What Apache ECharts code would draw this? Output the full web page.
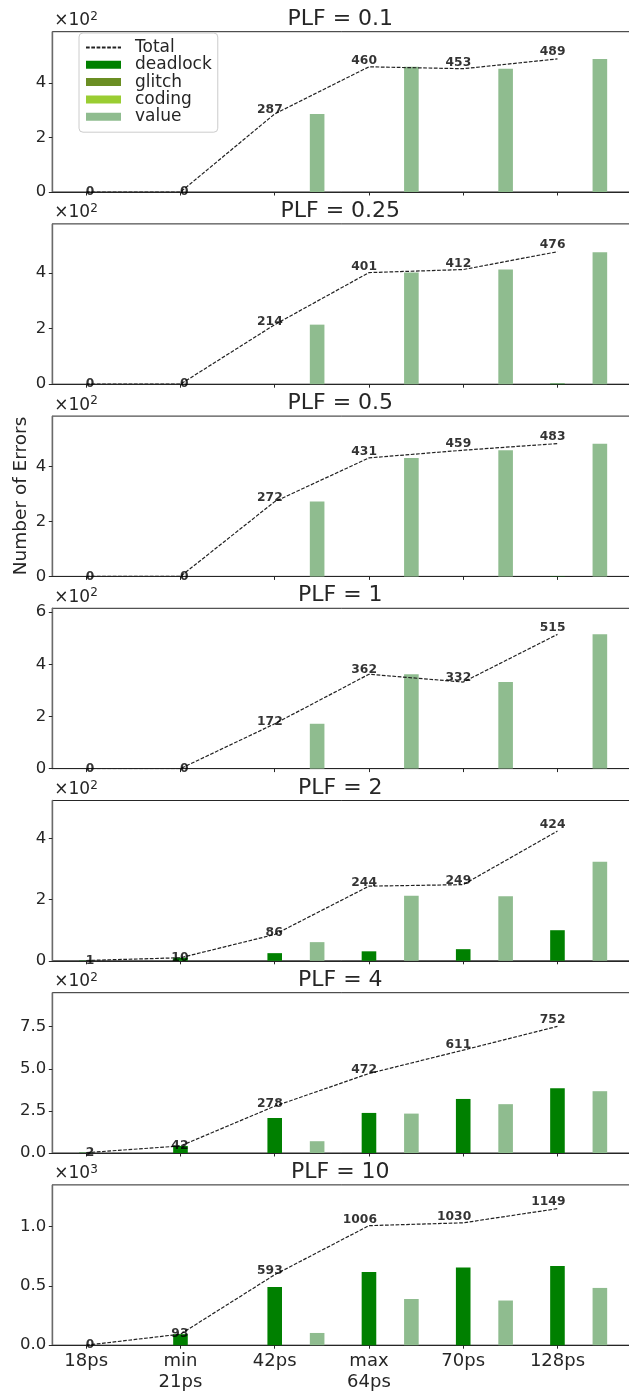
<!DOCTYPE html>
<html><head><meta charset="utf-8">
<script src="https://cdn.jsdelivr.net/npm/echarts@6/dist/echarts.min.js"></script>
<style>html,body{margin:0;padding:0;background:#fff}#c{width:629px;height:1394px}</style>
</head><body><div id="c"></div>
<script>
// ---------- data ----------
const categories = ['18ps', 'min\n21ps', '42ps', 'max\n64ps', '70ps', '128ps'];
const panelTitles = ['PLF = 0.1', 'PLF = 0.25', 'PLF = 0.5', 'PLF = 1', 'PLF = 2', 'PLF = 4', 'PLF = 10'];
const total = [
  [0, 0, 287, 460, 453, 489],
  [0, 0, 214, 401, 412, 476],
  [0, 0, 272, 431, 459, 483],
  [0, 0, 172, 362, 332, 515],
  [1, 10, 86, 244, 249, 424],
  [2, 42, 278, 472, 611, 752],
  [0, 93, 593, 1006, 1030, 1149]
];
const deadlock = [
  [0, 0, 0, 0, 0, 0],
  [0, 0, 0, 0, 0, 2],
  [0, 0, 0, 0, 0, 1],
  [0, 0, 0, 0, 0, 0],
  [1, 10, 25, 31, 38, 100],
  [2, 42, 208, 238, 321, 385],
  [0, 93, 490, 617, 654, 667]
];
const glitch = [
  [0, 0, 0, 0, 0, 0], [0, 0, 0, 0, 0, 0], [0, 0, 0, 0, 0, 0], [0, 0, 0, 0, 0, 0],
  [0, 0, 0, 0, 0, 0], [0, 0, 0, 0, 0, 0], [0, 0, 0, 0, 0, 0]
];
const coding = [
  [0, 0, 0, 0, 0, 0], [0, 0, 0, 0, 0, 0], [0, 0, 0, 0, 0, 0], [0, 0, 0, 0, 0, 0],
  [0, 0, 0, 0, 0, 0], [0, 0, 0, 0, 0, 0], [0, 0, 0, 0, 0, 0]
];
const value = [
  [0, 0, 287, 460, 453, 489],
  [0, 0, 214, 401, 412, 474],
  [0, 0, 272, 431, 459, 482],
  [0, 0, 172, 362, 332, 515],
  [0, 0, 61, 213, 211, 324],
  [0, 0, 70, 234, 290, 367],
  [0, 0, 103, 389, 376, 482]
];
const yMax = [589, 576, 583, 615, 524, 952, 1349];
const yTicks = [
  [0, 200, 400], [0, 200, 400], [0, 200, 400], [0, 200, 400, 600],
  [0, 200, 400], [0, 250, 500, 750], [0, 500, 1000]
];
const yExp = [2, 2, 2, 2, 2, 2, 3];
const yDecimals = [0, 0, 0, 0, 0, 1, 1];
const xTicks = [0, 1, 2, 3, 4, 5];

// ---------- styling / layout ----------
const FONT = 'DejaVu Sans';
const INK = '#262626';
const barSeriesDefs = [
  { name: 'deadlock', data: deadlock, color: '#008000', offset: 0.0 },
  { name: 'glitch', data: glitch, color: '#6b8e23', offset: 0.15 },
  { name: 'coding', data: coding, color: '#9acd32', offset: 0.30 },
  { name: 'value', data: value, color: '#8fbc8f', offset: 0.45 }
];
const BAR_W = 0.155;
const GRID_LEFT = 52.3, GRID_W = 581.5, GRID_TOP0 = 31.7, GRID_STEP = 192.2, GRID_H = 160.3;

function makeBar(offset, width) {
  return function (params, api) {
    const x = api.value(0), y = api.value(1);
    if (!y) return null;
    const a = api.coord([x + offset - width / 2, y]);
    const b = api.coord([x + offset + width / 2, 0]);
    return {
      type: 'rect',
      shape: { x: a[0], y: a[1], width: b[0] - a[0], height: b[1] - a[1] },
      style: { fill: api.visual('color') }
    };
  };
}

const grids = [], xAxes = [], yAxes = [], series = [], graphics = [];
const nP = panelTitles.length;
for (let p = 0; p < nP; p++) {
  const top = GRID_TOP0 + GRID_STEP * p;
  const last = p === nP - 1;
  grids.push({
    left: GRID_LEFT, width: GRID_W, top: top, height: GRID_H,
    show: true, borderColor: INK, borderWidth: 1, backgroundColor: 'transparent',
    outerBoundsMode: 'none', containLabel: false
  });
  xAxes.push({
    gridIndex: p, type: 'value', min: -0.36, max: 5.81,
    axisLine: { show: true, onZero: false, lineStyle: { color: INK, width: 1 } },
    axisTick: { show: true, customValues: xTicks, length: 3.5, lineStyle: { color: INK, width: 1 } },
    axisLabel: {
      show: last, customValues: xTicks, margin: 6,
      fontFamily: FONT, fontSize: 18, lineHeight: 21, color: INK,
      formatter: v => categories[Math.round(v)]
    },
    splitLine: { show: false }
  });
  yAxes.push({
    gridIndex: p, type: 'value', min: 0, max: yMax[p],
    name: '{a|×10}{b|' + yExp[p] + '}',
    nameLocation: 'end', nameGap: 1,
    nameTextStyle: {
      align: 'left', padding: [0, 0, 0, 2],
      rich: {
        a: { fontFamily: FONT, fontSize: 17, color: INK, lineHeight: 20 },
        b: { fontFamily: FONT, fontSize: 12, color: INK, lineHeight: 12, verticalAlign: 'top' }
      }
    },
    axisLine: { show: true, onZero: false, lineStyle: { color: '#6a6a6a', width: 1.4 } },
    axisTick: { show: true, customValues: yTicks[p], length: 3.5, lineStyle: { color: INK, width: 1 } },
    axisLabel: {
      show: true, customValues: yTicks[p], margin: 6,
      fontFamily: FONT, fontSize: 16.5, color: INK,
      formatter: v => (v / Math.pow(10, yExp[p])).toFixed(yDecimals[p])
    },
    splitLine: { show: false }
  });

  barSeriesDefs.forEach(def => {
    series.push({
      type: 'custom', name: def.name, xAxisIndex: p, yAxisIndex: p,
      itemStyle: { color: def.color },
      renderItem: makeBar(def.offset, BAR_W),
      encode: { x: 0, y: 1 },
      data: def.data[p].map((v, i) => [i, v]),
      z: 2, silent: true
    });
  });

  series.push({
    type: 'line', name: 'Total', xAxisIndex: p, yAxisIndex: p,
    data: total[p].map((v, i) => [i, v]),
    symbol: 'none', silent: true,
    lineStyle: { color: '#222222', width: 1.2, type: [3.7, 1.6] },
    itemStyle: { color: '#222222' },
    z: 4
  });
  // total labels (right-aligned just beside each total point)
  series.push({
    type: 'scatter', name: 'TotalLabel', xAxisIndex: p, yAxisIndex: p,
    data: total[p].map((v, i) => [i + 0.09, v * 1.05]),
    symbolSize: 1, itemStyle: { color: 'rgba(0,0,0,0)' }, silent: true,
    label: {
      show: true, position: 'left', distance: 0,
      fontFamily: FONT, fontWeight: 'bold', fontSize: 12.3, color: '#000000',
      formatter: (prm) => String(total[p][prm.dataIndex])
    },
    z: 5
  });

  graphics.push({
    type: 'text', x: GRID_LEFT + 288, y: top - 12.6,
    style: {
      text: panelTitles[p], font: '22px "' + FONT + '"', fill: INK,
      align: 'center', verticalAlign: 'middle', textAlign: 'center', textVerticalAlign: 'middle'
    }
  });
}

graphics.push({
  type: 'text', x: 21, y: 496, rotation: Math.PI / 2,
  style: {
    text: 'Number of Errors', font: '18.5px "' + FONT + '"', fill: INK,
    align: 'center', verticalAlign: 'middle', textAlign: 'center', textVerticalAlign: 'middle'
  }
});

const chart = echarts.init(document.getElementById('c'), null, { renderer: 'canvas' });
chart.setOption({
  animation: false,
  backgroundColor: '#ffffff',
  textStyle: { fontFamily: FONT },
  grid: grids,
  xAxis: xAxes,
  yAxis: yAxes,
  series: series,
  graphic: graphics,
  legend: {
    orient: 'vertical', left: 79, top: 33, padding: [6, 6, 7, 6],
    itemWidth: 35, itemHeight: 8, itemGap: 0.3,
    backgroundColor: 'rgba(255,255,255,0.8)', borderColor: '#cccccc', borderWidth: 1, borderRadius: 4,
    selectedMode: false,
    textStyle: { fontFamily: FONT, fontSize: 17, color: INK, lineHeight: 17, padding: [0, 0, 0, 9] },
    data: [
      { name: 'Total', itemStyle: { opacity: 0 } },
      { name: 'deadlock', icon: 'rect' },
      { name: 'glitch', icon: 'rect' },
      { name: 'coding', icon: 'rect' },
      { name: 'value', icon: 'rect' }
    ]
  }
});
</script>
</body></html>
